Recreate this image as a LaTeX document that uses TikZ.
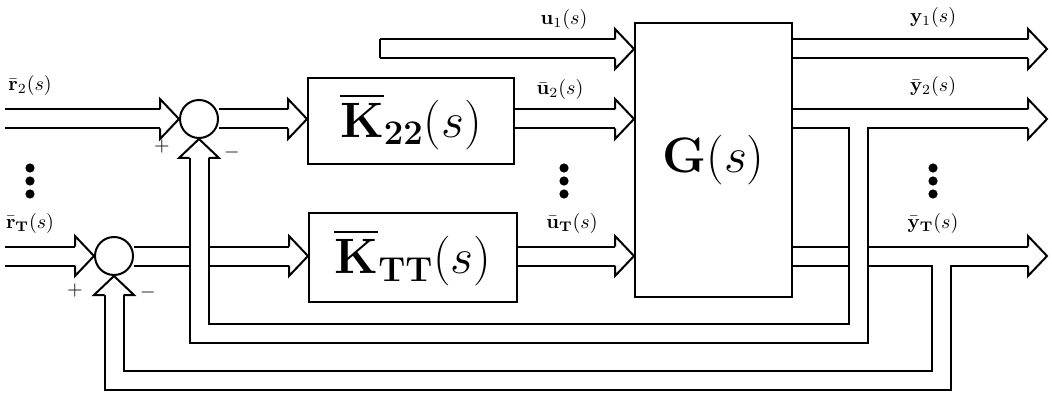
\documentclass[tikz,border=0pt]{standalone}
\usepackage{amsmath,amssymb}
\usepackage{xcolor}
\usepackage{tikz}
\usetikzlibrary{calc,backgrounds}
\tikzset{
  pipe/.style={draw=white,line width=8.5pt,preaction={draw=black,line width=10.5pt}},
  blk/.style={draw,line width=1pt,fill=white,inner sep=0pt,font=\fontsize{24}{28}\selectfont},
  sumc/.style={draw,circle,line width=1pt,fill=white,minimum size=19pt,inner sep=0pt},
  lab/.style={font=\fontsize{10}{12}\selectfont,inner sep=0pt},
  hhead/.pic={\filldraw[fill=white,line width=1pt] (-19,-9.5)--(-19,-20)--(0,0)--(-19,20)--(-19,9.5);},
}

\begin{document}
\begin{tikzpicture}[x=0.5pt,y=-0.5pt]
\useasboundingbox (0,0) rectangle (1052,395);
% blocks
\node[sumc] (s2) at (199,119) {};
\node[sumc] (sT) at (114,256) {};
\node[blk,minimum width=103pt,minimum height=43pt,font=\fontsize{26}{30}\selectfont] (K22) at (411,121) {$\overline{\mathbf{K}}_{\mathbf{22}}(s)$};
\node[blk,minimum width=104pt,minimum height=44.5pt,font=\fontsize{26}{30}\selectfont] (KTT) at (413,257.5) {$\overline{\mathbf{K}}_{\mathbf{TT}}(s)$};
\node[blk,minimum width=78.5pt,minimum height=137pt] (G) at (713.5,160) {$\mathbf{G}(s)$};
% free ends
\coordinate (r2) at (5,119);
\coordinate (rT) at (5,256);
\coordinate (u1) at (380,49);
\coordinate (y1) at (1047,49);
\coordinate (y2) at (1047,119);
\coordinate (yT) at (1047,256);
% hollow connectors
\begin{scope}[on background layer]
\draw[pipe] (r2) -- ($(s2.west)+(-19,0)$);
\draw[pipe] (rT) -- ($(sT.west)+(-19,0)$);
\draw[pipe] (s2) -- ($(K22.west |- s2)+(-19,0)$);
\draw[pipe] (sT) -- ($(KTT.west |- sT)+(-19,0)$);
\draw[pipe] (u1) -- ($(G.west |- u1)+(-19,0)$);
\draw[pipe] (K22.east |- s2) -- ($(G.west |- s2)+(-19,0)$);
\draw[pipe] (KTT.east |- sT) -- ($(G.west |- sT)+(-19,0)$);
\draw[pipe] (G.east |- y1) -- ($(y1)+(-19,0)$);
\draw[pipe] (G.east |- yT) -- ($(yT)+(-19,0)$) (941,256) |- (114,380) -- ($(sT.south)+(0,19)$);
\draw[pipe] (G.east |- y2) -- ($(y2)+(-19,0)$) (858,119) |- (199,333) -- ($(s2.south)+(0,19)$);
\draw[line width=1pt] ($(u1)+(0,-9.5)$) -- ($(u1)+(0,9.5)$);
% heads
\pic at (s2.west) {hhead};
\pic at (sT.west) {hhead};
\pic at (K22.west |- s2) {hhead};
\pic at (KTT.west |- sT) {hhead};
\pic at (G.west |- u1) {hhead};
\pic at (G.west |- s2) {hhead};
\pic at (G.west |- sT) {hhead};
\foreach \o in {y1,y2,yT} \pic at (\o) {hhead};
\pic[rotate=90] at (s2.south) {hhead};
\pic[rotate=90] at (sT.south) {hhead};
\end{scope}
% labels
\node[lab] (lr2) at (30,86) {$\bar{\mathbf{r}}_2(s)$};
\node[lab] (lrT) at (30,223) {$\bar{\mathbf{r}}_{\mathbf{T}}(s)$};
\node[lab] (lu1) at (564,20) {$\mathbf{u}_1(s)$};
\node[lab] (lu2) at (560,90) {$\bar{\mathbf{u}}_2(s)$};
\node[lab] (luT) at (572,223) {$\bar{\mathbf{u}}_{\mathbf{T}}(s)$};
\node[lab] (ly1) at (933,18) {$\mathbf{y}_1(s)$};
\node[lab] (ly2) at (933,87) {$\bar{\mathbf{y}}_2(s)$};
\node[lab] (lyT) at (933,223) {$\bar{\mathbf{y}}_{\mathbf{T}}(s)$};
\node[lab] (p2) at (162,147) {$+$};
\node[lab] (m2) at (232,153) {$-$};
\node[lab] (pT) at (75,290) {$+$};
\node[lab] (mT) at (148,292) {$-$};
% dots
\foreach \x in {30,564,933} \foreach \y in {168,181,194} \fill (\x,\y) circle (2.3pt);
\end{tikzpicture}
\end{document}
